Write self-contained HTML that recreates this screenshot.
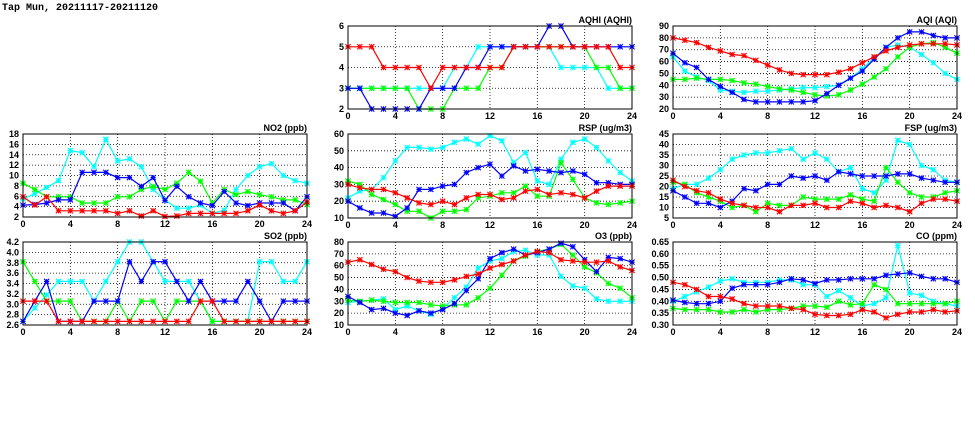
<!DOCTYPE html>
<html><head><meta charset="utf-8">
<style>
html,body{margin:0;padding:0;background:#fff;}
svg{display:block;font-family:"Liberation Sans",sans-serif;}
</style></head>
<body>
<svg id="chart" width="975" height="447" viewBox="0 0 975 447" xmlns="http://www.w3.org/2000/svg">
<text x="2" y="10" font-size="10" font-weight="bold" font-family="Liberation Mono, monospace">Tap Mun, 20211117-20211120</text>
</svg>
<script>
const hours = [0,1,2,3,4,5,6,7,8,9,10,11,12,13,14,15,16,17,18,19,20,21,22,23,24];
const xTicks = [0,4,8,12,16,20,24];

const aqhiRed   = [5,5,5,4,4,4,4,3,4,4,4,4,4,4,5,5,5,5,5,5,5,5,5,4,4];
const aqhiBlue  = [3,3,2,2,2,2,2,3,3,3,4,4,5,5,5,5,5,6,6,5,5,5,5,5,5];
const aqhiCyan  = [3,3,3,3,3,3,3,3,3,4,4,5,5,5,5,5,5,5,4,4,4,4,3,3,3];
const aqhiGreen = [3,3,3,3,3,3,2,2,2,3,3,3,4,4,5,5,5,5,5,5,5,4,4,3,3];
const aqhiTicks = [2,3,4,5,6];

const aqiRed   = [80,78,76,72,69,66,65,61,57,53,50,49,49,49,51,54,59,64,69,72,74,75,75,75,74];
const aqiBlue  = [67,59,55,45,39,34,28,26,26,26,26,26,27,33,40,46,52,62,72,80,85,85,82,80,80];
const aqiCyan  = [64,52,47,44,36,35,34,35,35,36,37,38,38,39,40,46,54,63,72,74,72,66,59,50,45];
const aqiGreen = [45,45,46,45,45,44,42,41,39,37,36,34,32,31,32,36,41,47,54,64,72,75,76,72,67];
const aqiTicks = [20,30,40,50,60,70,80,90];

const no2Cyan  = [5.5,6.5,7.7,9,14.8,14.4,11.7,17,12.8,13.2,11.7,7.3,5.3,3.7,3.7,4.3,2.7,3.3,7.3,10,11.7,12.3,10,9,8.5];
const no2Blue  = [4.3,4.4,4.7,5.3,5.3,10.6,10.6,10.6,9.6,9.6,7.9,9.6,5.2,7.9,5.9,4.7,4.2,6.9,4.7,4.2,4.7,4.7,4.7,3.2,5.9];
const no2Green = [8.5,7.3,5.9,5.9,5.9,4.7,4.7,4.7,5.9,5.9,7.3,7.9,7.3,8.5,10.6,8.9,4.7,7.3,6.3,6.9,6.3,5.9,5.3,5.3,4.4];
const no2Red   = [5.9,4.3,5.9,3.2,3.2,3.2,3.2,3.2,2.7,3.2,2.2,3.2,2.1,2.2,2.7,2.7,2.7,2.7,2.7,3.2,4.3,3.2,2.7,3.2,4.9];
const no2Ticks = [2,4,6,8,10,12,14,16,18];

const rspCyan  = [22,26,27,34,44,52,52,51,52,55,57,54,59,56,43,49,32,30,45,55,57,52,44,37,32];
const rspBlue  = [20,16,13,13,11,16,27,27,29,30,37,40,42,35,41,38,39,38,37,38,36,31,31,30,30];
const rspGreen = [32,30,24,21,18,14,14,10,14,14,15,22,23,25,25,29,23,23,43,33,22,19,18,19,20];
const rspRed   = [30,28,27,27,25,22,19,18,20,18,22,24,24,21,22,26,27,24,25,24,22,26,29,29,29];
const rspTicks = [10,20,30,40,50,60];

const fspCyan  = [19,21,21,24,28,33,35,36,36,37,38,33,36,33,27,29,19,17,23,42,40,30,28,23,22];
const fspBlue  = [18,15,12,12,10,13,19,18,21,21,25,24,25,23,27,26,25,25,25,26,26,24,23,22,22];
const fspGreen = [22,21,17,15,13,10,11,8,12,11,11,15,14,14,14,16,14,13,29,22,17,15,15,17,18];
const fspRed   = [23,20,18,17,14,12,11,10,10,8,11,11,12,10,10,13,12,10,11,10,8,12,14,14,13];
const fspTicks = [5,10,15,20,25,30,35,40,45];

const so2Cyan  = [2.67,2.93,3.18,3.44,3.44,3.44,3.06,3.44,3.82,4.2,4.2,3.82,3.44,3.44,3.44,3.06,2.67,2.67,2.67,2.67,3.82,3.82,3.44,3.44,3.82];
const so2Blue  = [2.67,3.06,3.44,2.67,2.67,2.67,3.06,3.06,3.06,3.82,3.44,3.82,3.82,3.44,3.06,3.44,3.06,3.06,3.06,3.44,3.06,2.67,3.06,3.06,3.06];
const so2Green = [3.82,3.44,3.06,3.06,3.06,2.67,2.67,2.67,3.06,2.67,3.06,3.06,2.67,3.06,3.06,3.06,2.67,2.67,2.67,2.67,2.67,2.67,2.67,2.67,2.67];
const so2Red   = [3.06,3.06,3.06,2.67,2.67,2.67,2.67,2.67,2.67,2.67,2.67,2.67,2.67,2.67,2.67,3.06,3.06,2.67,2.67,2.67,2.67,2.67,2.67,2.67,2.67];
const so2Ticks = [2.6,2.8,3.0,3.2,3.4,3.6,3.8,4.0,4.2];

const o3Red   = [63,65,61,57,55,50,47,46,46,48,51,53,58,61,64,69,72,71,65,64,63,63,64,59,56];
const o3Blue  = [34,29,23,24,20,18,22,20,23,28,39,49,66,71,74,69,71,74,79,76,65,55,67,66,63];
const o3Cyan  = [29,30,31,32,23,26,22,19,24,33,42,58,64,66,72,73,69,69,51,43,41,32,30,30,30];
const o3Green = [31,30,31,30,29,29,29,27,26,27,27,33,41,52,64,68,72,74,78,69,59,54,45,41,33];
const o3Ticks = [10,20,30,40,50,60,70,80];

const coCyan  = [0.40,0.42,0.44,0.46,0.485,0.495,0.48,0.48,0.48,0.49,0.49,0.47,0.47,0.42,0.445,0.415,0.38,0.39,0.415,0.635,0.435,0.425,0.40,0.39,0.38];
const coBlue  = [0.405,0.395,0.39,0.39,0.40,0.455,0.47,0.47,0.47,0.48,0.495,0.49,0.475,0.49,0.49,0.495,0.495,0.495,0.51,0.515,0.52,0.505,0.495,0.495,0.48];
const coGreen = [0.37,0.365,0.365,0.365,0.355,0.355,0.365,0.355,0.365,0.365,0.37,0.38,0.38,0.375,0.40,0.385,0.39,0.47,0.45,0.39,0.39,0.39,0.39,0.39,0.40];
const coRed   = [0.48,0.47,0.45,0.42,0.42,0.41,0.39,0.38,0.38,0.38,0.37,0.365,0.345,0.34,0.34,0.345,0.365,0.355,0.33,0.345,0.355,0.355,0.365,0.355,0.36];
const coTicks = [0.30,0.35,0.40,0.45,0.50,0.55,0.60,0.65];

const NS = "http://www.w3.org/2000/svg";
const svg = document.getElementById("chart");
function mk(tag, attrs, parent){
  const e = document.createElementNS(NS, tag);
  for (const k in attrs) e.setAttribute(k, attrs[k]);
  (parent||svg).appendChild(e);
  return e;
}

const COLS = {cyan:"#00ffff", green:"#00ff00", blue:"#0000ff", red:"#ff0000"};

function panel(name, title, x0, x1, y0, y1, ticks, dec, series){
  const g = mk("g", {});
  
  
  const yMin = ticks[0], yMax = ticks[ticks.length-1];
  const sx = h => x0 + (h/24)*(x1-x0);
  const sy = v => y1 - (v-yMin)/(yMax-yMin)*(y1-y0);
  // grid
  ticks.forEach(t => {
    const y = sy(t);
    if (t!==yMin && t!==yMax) {
      const l = mk("line", {x1:x0, x2:x1, y1:y, y2:y, stroke:"#000", "stroke-width":0.8, "stroke-dasharray":"1,2"}, g);
      
      
    }
    const tl = mk("text", {x:x0-4, y:y+3, "font-size":9, "font-weight":"bold", "text-anchor":"end"}, g);
    tl.textContent = t.toFixed(dec);
    
    
  });
  xTicks.forEach(t => {
    const x = sx(t);
    if (t!==0 && t!==24) {
      const l = mk("line", {x1:x, x2:x, y1:y0, y2:y1, stroke:"#000", "stroke-width":0.8, "stroke-dasharray":"1,2"}, g);
      
      
    }
    const tl = mk("text", {x:x, y:y1+10, "font-size":9, "font-weight":"bold", "text-anchor":"middle"}, g);
    tl.textContent = t;
    
    
  });
  const tt = mk("text", {x:x1, y:y0-3, "font-size":9, "font-weight":"bold", "text-anchor":"end"}, g);
  tt.textContent = title;
  
  
  // clip
  const cid = "clip-" + name;
  const cp = mk("clipPath", {id:cid}, g);
  mk("rect", {x:x0-3, y:y0-3, width:x1-x0+6, height:y1-y0+6}, cp);
  const sg = mk("g", {"clip-path":"url(#"+cid+")"}, g);
  series.forEach(([col, vals]) => {
    const pts = vals.map((v,i) => sx(hours[i]).toFixed(1)+","+sy(v).toFixed(1)).join(" ");
    const pl = mk("polyline", {points:pts, fill:"none", stroke:COLS[col], "stroke-width":1.2}, sg);
    
    
    vals.forEach((v,i) => {
      const cx = sx(hours[i]), cy = sy(v), r = 2.6;
      const m = mk("path", {d:`M${cx-r},${cy-r}L${cx+r},${cy+r}M${cx-r},${cy+r}L${cx+r},${cy-r}M${cx-r},${cy}L${cx+r},${cy}M${cx},${cy-r}L${cx},${cy+r}`, stroke:COLS[col], "stroke-width":1.1}, sg);
      
      
    });
  });
  const fr = mk("rect", {x:x0, y:y0, width:x1-x0, height:y1-y0, fill:"none", stroke:"#000", "stroke-width":1}, g);
  
  
}

panel("aqhi","AQHI (AQHI)",348,632,26,109,aqhiTicks,0,[["cyan",aqhiCyan],["green",aqhiGreen],["blue",aqhiBlue],["red",aqhiRed]]);
panel("aqi","AQI (AQI)",673,957,26,109,aqiTicks,0,[["cyan",aqiCyan],["green",aqiGreen],["blue",aqiBlue],["red",aqiRed]]);
panel("no2","NO2 (ppb)",23,307,134,217,no2Ticks,0,[["cyan",no2Cyan],["green",no2Green],["blue",no2Blue],["red",no2Red]]);
panel("rsp","RSP (ug/m3)",348,632,134,218,rspTicks,0,[["cyan",rspCyan],["green",rspGreen],["blue",rspBlue],["red",rspRed]]);
panel("fsp","FSP (ug/m3)",673,957,134,218,fspTicks,0,[["cyan",fspCyan],["green",fspGreen],["blue",fspBlue],["red",fspRed]]);
panel("so2","SO2 (ppb)",23,307,242,325,so2Ticks,1,[["cyan",so2Cyan],["green",so2Green],["blue",so2Blue],["red",so2Red]]);
panel("o3","O3 (ppb)",348,632,242,325,o3Ticks,0,[["cyan",o3Cyan],["green",o3Green],["blue",o3Blue],["red",o3Red]]);
panel("co","CO (ppm)",673,957,242,325,coTicks,2,[["cyan",coCyan],["green",coGreen],["blue",coBlue],["red",coRed]]);
</script>
</body></html>
